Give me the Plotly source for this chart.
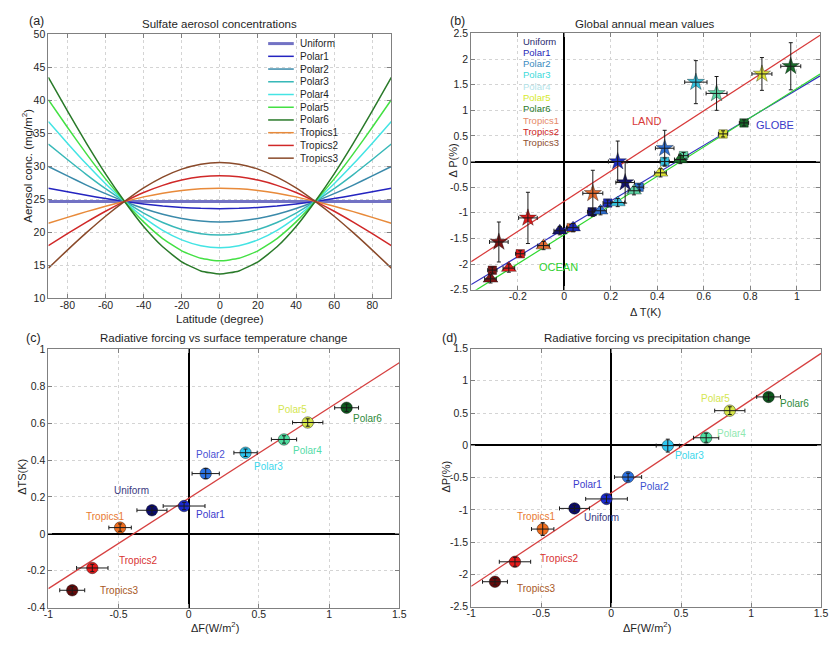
import plotly.graph_objects as go

# ---------------------------------------------------------------- data
experiments = ["Uniform", "Polar1", "Polar2", "Polar3", "Polar4", "Polar5",
               "Polar6", "Tropics1", "Tropics2", "Tropics3"]

# (a) zonal sulfate aerosol concentration profiles (mg/m2)
latitude = [-90, -80, -70, -60, -50, -40, -30, -20, -10, 0,
            10, 20, 30, 40, 50, 60, 70, 80, 90]
conc_uniform = [24.7, 24.7, 24.7, 24.7, 24.7, 24.7, 24.7, 24.7, 24.7, 24.7,
                24.7, 24.7, 24.7, 24.7, 24.7, 24.7, 24.7, 24.7, 24.7]
conc_polar1 = [26.7, 26.16, 25.64, 25.14, 24.7, 24.32, 24.01, 23.79, 23.65, 23.6,
               23.65, 23.79, 24.01, 24.32, 24.7, 25.14, 25.64, 26.16, 26.7]
conc_polar2 = [30.0, 28.57, 27.18, 25.88, 24.7, 23.63, 22.76, 22.12, 21.73, 21.6,
               21.73, 22.12, 22.76, 23.63, 24.7, 25.88, 27.18, 28.57, 30.0]
conc_polar3 = [33.4, 31.05, 28.77, 26.63, 24.7, 22.94, 21.51, 20.46, 19.82, 19.6,
               19.82, 20.46, 21.51, 22.94, 24.7, 26.63, 28.77, 31.05, 33.4]
conc_polar4 = [36.8, 33.53, 30.36, 27.39, 24.7, 22.29, 20.33, 18.88, 18.0, 17.7,
               18.0, 18.88, 20.33, 22.29, 24.7, 27.39, 30.36, 33.53, 36.8]
conc_polar5 = [40.1, 35.94, 31.91, 28.12, 24.7, 21.6, 19.08, 17.22, 16.08, 15.7,
               16.08, 17.22, 19.08, 21.6, 24.7, 28.12, 31.91, 35.94, 40.1]
conc_polar6 = [43.5, 38.42, 33.5, 28.88, 24.7, 20.91, 17.83, 15.56, 14.17, 13.7,
               14.17, 15.56, 17.83, 20.91, 24.7, 28.88, 33.5, 38.42, 43.5]
conc_tropics1 = [21.4, 22.29, 23.16, 23.97, 24.7, 25.39, 25.95, 26.36, 26.62, 26.7,
                 26.62, 26.36, 25.95, 25.39, 24.7, 23.97, 23.16, 22.29, 21.4]
conc_tropics2 = [18.0, 19.81, 21.56, 23.21, 24.7, 26.05, 27.14, 27.94, 28.43, 28.6,
                 28.43, 27.94, 27.14, 26.05, 24.7, 23.21, 21.56, 19.81, 18.0]
conc_tropics3 = [14.6, 17.33, 19.97, 22.46, 24.7, 26.74, 28.39, 29.6, 30.35, 30.6,
                 30.35, 29.6, 28.39, 26.74, 24.7, 22.46, 19.97, 17.33, 14.6]
concentrations = [conc_uniform, conc_polar1, conc_polar2, conc_polar3, conc_polar4,
                  conc_polar5, conc_polar6, conc_tropics1, conc_tropics2, conc_tropics3]

# (b) global annual mean dT (K) and dP (%) over land, globe and ocean
dT_land = [0.262, 0.23, 0.432, 0.566, 0.655, 0.85, 0.974, 0.123, -0.156, -0.281]
dP_land = [-0.41, 0.0, 0.26, 1.55, 1.33, 1.71, 1.86, -0.62, -1.10, -1.57]
dT_land_err = [0.04, 0.04, 0.04, 0.048, 0.045, 0.043, 0.043, 0.043, 0.04, 0.04]
dP_land_err = [0.40, 0.40, 0.35, 0.42, 0.33, 0.32, 0.46, 0.45, 0.50, 0.39]

dT_globe = [0.12, 0.187, 0.322, 0.432, 0.513, 0.683, 0.773, 0.03, -0.189, -0.309]
dP_globe = [-0.98, -0.81, -0.50, 0.0, 0.115, 0.54, 0.755, -1.29, -1.80, -2.12]
dT_globe_err = [0.02, 0.02, 0.02, 0.02, 0.02, 0.02, 0.02, 0.02, 0.02, 0.02]
dP_globe_err = [0.06, 0.06, 0.06, 0.07, 0.06, 0.06, 0.06, 0.06, 0.06, 0.06]

dT_ocean = [-0.019, 0.038, 0.156, 0.23, 0.30, 0.414, 0.499, -0.089, -0.238, -0.317]
dP_ocean = [-1.35, -1.29, -0.96, -0.80, -0.57, -0.22, 0.04, -1.64, -2.08, -2.29]
dT_ocean_err = [0.025, 0.025, 0.025, 0.03, 0.025, 0.025, 0.025, 0.025, 0.025, 0.025]
dP_ocean_err = [0.08, 0.08, 0.08, 0.08, 0.08, 0.08, 0.08, 0.08, 0.08, 0.08]

# regression lines in (b): slope, intercept
fit_land = (2.946, -0.776)
fit_globe = (2.715, -1.314)
fit_ocean = (2.853, -1.427)

# (c), (d) radiative forcing vs surface temperature / precipitation change
dF = [-0.262, -0.033, 0.121, 0.405, 0.679, 0.848, 1.125, -0.489, -0.687, -0.83]
dF_err = [0.107, 0.149, 0.097, 0.083, 0.09, 0.108, 0.085, 0.08, 0.112, 0.089]
dTS = [0.128, 0.151, 0.327, 0.44, 0.512, 0.604, 0.684, 0.034, -0.185, -0.306]
dTS_err = [0.02, 0.02, 0.027, 0.02, 0.02, 0.02, 0.02, 0.02, 0.02, 0.02]
dP = [-0.978, -0.831, -0.492, -0.005, 0.117, 0.537, 0.75, -1.298, -1.805, -2.114]
dP_err = [0.05, 0.06, 0.06, 0.1, 0.07, 0.06, 0.06, 0.1, 0.07, 0.05]

fit_ts = (0.49, 0.193)
fit_p = (1.444, -0.741)

# ---------------------------------------------------------------- styles
FONT = "Liberation Sans, Arial, Helvetica, sans-serif"
W, H = 832, 646


def px(x):
    return x / W


def py(y):
    return 1 - y / H


line_a = ["#7272c4", "#2424c0", "#3a8aaa", "#38b8b8", "#44e4e4", "#44e044",
          "#2a7a2a", "#e88a3a", "#d02828", "#8a4a2a"]
marker_b = ["#14146e", "#1c2cc0", "#2f6fd0", "#35c0dc", "#5ed6a6", "#dce236",
            "#196b2a", "#e26a2e", "#dc1c1c", "#7a1414"]
legend_b = ["#2a2a6e", "#2828b8", "#3a8abe", "#40dada", "#b4e4ea", "#d6ea2c",
            "#2a7a2a", "#e68a6a", "#cc2222", "#8e4e2e"]
marker_cd = ["#0c0c6c", "#1a2ad0", "#2a72e4", "#2fc6f0", "#4fdea0", "#d6e64a",
             "#0d5a1e", "#f06e1e", "#e61a1a", "#640a0a"]
label_c_col = ["#3a3a80", "#3a3acc", "#4a50d4", "#40d8ec", "#55dca8", "#d4e650",
               "#2e8a3a", "#e87a30", "#d83232", "#a8581e"]
label_d_col = ["#3a3a80", "#3a3acc", "#3a50d0", "#40d8ec", "#90e8b0", "#d4e650",
               "#2e8a3a", "#e87a30", "#d83232", "#a8581e"]

# text placement for point labels (data coordinates)
label_pos_c = [(-0.405, 0.233), (0.157, 0.107), (0.157, 0.428), (0.569, 0.364),
               (0.848, 0.453), (0.738, 0.677), (1.277, 0.627), (-0.597, 0.092),
               (-0.363, -0.142), (-0.497, -0.306)]
label_pos_d = [(-0.07, -1.125), (-0.171, -0.613), (0.312, -0.634), (0.563, -0.157),
               (0.857, 0.188), (0.749, 0.73), (1.307, 0.649), (-0.54, -1.11),
               (-0.369, -1.76), (-0.535, -2.226)]

# plot boxes in pixels: left, top, right, bottom
boxes = {
    "a": (44, 29, 392, 298),
    "b": (473, 28, 827, 289),
    "c": (44, 350, 400, 613),
    "d": (473, 349, 828, 612),
}


def xdom(k):
    l, t, r, b = boxes[k]
    return [px(l), px(r)]


def ydom(k):
    l, t, r, b = boxes[k]
    return [py(b), py(t)]


def axis(domain, rng, tickvals, anchor, zero=False, standoff=0):
    return dict(
        domain=domain, range=rng, tickvals=tickvals,
        ticktext=[f"{v:g}" for v in tickvals],
        ticks="inside", ticklen=4, tickcolor="#808080",
        showline=True, linecolor="#808080", linewidth=1, mirror="ticks",
        showgrid=True, gridcolor="#d4d4d4", griddash="dot", gridwidth=1,
        zeroline=zero, zerolinecolor="black", zerolinewidth=2,
        tickfont=dict(family=FONT, size=10.5, color="#262626"),
        ticklabelstandoff=standoff,
        anchor=anchor, fixedrange=True,
    )


fig = go.Figure()

# ---------------------------------------------------------------- (a)
for i, name in enumerate(experiments):
    fig.add_trace(go.Scatter(
        x=latitude, y=concentrations[i], mode="lines", name=name,
        line=dict(color=line_a[i], width=3 if i == 0 else 1.5,
                  shape="spline", smoothing=0.5),
        xaxis="x", yaxis="y", showlegend=False, hoverinfo="skip"))

# ---------------------------------------------------------------- (b)
x_line_b = [-0.4, 1.1]
for fit, col in [(fit_land, "#d83a3a"), (fit_globe, "#3232c0"), (fit_ocean, "#2ed82e")]:
    fig.add_trace(go.Scatter(
        x=x_line_b, y=[fit[0] * v + fit[1] for v in x_line_b], mode="lines",
        line=dict(color=col, width=1.2), xaxis="x2", yaxis="y2",
        showlegend=False, hoverinfo="skip"))

groups_b = [
    (dT_globe, dP_globe, dT_globe_err, dP_globe_err, "square", 8.5),
    (dT_ocean, dP_ocean, dT_ocean_err, dP_ocean_err, "triangle-up", 13),
    (dT_land, dP_land, dT_land_err, dP_land_err, "star", 13),
]
for xs, ys, xe, ye, sym, size in groups_b:
    for i in range(len(experiments)):
        fig.add_trace(go.Scatter(
            x=[xs[i]], y=[ys[i]], mode="markers",
            marker=dict(symbol=sym, size=size, color=marker_b[i],
                        line=dict(color="rgba(0,0,0,0.55)", width=0.6)),
            xaxis="x2", yaxis="y2", showlegend=False, hoverinfo="skip"))
        fig.add_trace(go.Scatter(
            x=[xs[i]], y=[ys[i]], mode="markers",
            marker=dict(size=1, color="rgba(0,0,0,0)"),
            error_x=dict(type="data", array=[xe[i]], color="#1a1a1a", thickness=1, width=2),
            error_y=dict(type="data", array=[ye[i]], color="#1a1a1a", thickness=1, width=2),
            xaxis="x2", yaxis="y2", showlegend=False, hoverinfo="skip"))

# ---------------------------------------------------------------- (c), (d)
x_line_cd = [-1.0, 1.5]
for (ys, ye, fit, xa, ya) in [(dTS, dTS_err, fit_ts, "x3", "y3"),
                              (dP, dP_err, fit_p, "x4", "y4")]:
    fig.add_trace(go.Scatter(
        x=x_line_cd, y=[fit[0] * v + fit[1] for v in x_line_cd], mode="lines",
        line=dict(color="#d64040", width=1.3), xaxis=xa, yaxis=ya,
        showlegend=False, hoverinfo="skip"))
    fig.add_trace(go.Scatter(
        x=dF, y=ys, mode="markers",
        marker=dict(symbol="circle", size=11.5, color=marker_cd,
                    line=dict(color="rgba(0,0,0,0.6)", width=0.7)),
        xaxis=xa, yaxis=ya, showlegend=False, hoverinfo="skip"))
    fig.add_trace(go.Scatter(
        x=dF, y=ys, mode="markers", marker=dict(size=1, color="rgba(0,0,0,0)"),
        error_x=dict(type="data", array=dF_err, color="#1a1a1a", thickness=1, width=2),
        error_y=dict(type="data", array=ye, color="#1a1a1a", thickness=1, width=2),
        xaxis=xa, yaxis=ya, showlegend=False, hoverinfo="skip"))

# ---------------------------------------------------------------- axes
fig.update_layout(
    xaxis=axis(xdom("a"), [-90, 90], [-80, -60, -40, -20, 0, 20, 40, 60, 80], "y",
               standoff=-3),
    yaxis=axis(ydom("a"), [10, 50], [10, 15, 20, 25, 30, 35, 40, 45, 50], "x"),
    xaxis2=axis(xdom("b"), [-0.4, 1.1], [-0.2, 0, 0.2, 0.4, 0.6, 0.8, 1.0], "y2",
                zero=True, standoff=-3),
    yaxis2=axis(ydom("b"), [-2.5, 2.5], [-2.5, -2, -1.5, -1, -0.5, 0, 0.5, 1, 1.5, 2, 2.5],
                "x2", zero=True),
    xaxis3=axis(xdom("c"), [-1, 1.5], [-1, -0.5, 0, 0.5, 1, 1.5], "y3", zero=True,
                standoff=-3),
    yaxis3=axis(ydom("c"), [-0.4, 1], [-0.4, -0.2, 0, 0.2, 0.4, 0.6, 0.8, 1], "x3",
                zero=True),
    xaxis4=axis(xdom("d"), [-1, 1.5], [-1, -0.5, 0, 0.5, 1, 1.5], "y4", zero=True,
                standoff=-3),
    yaxis4=axis(ydom("d"), [-2.5, 1.5], [-2.5, -2, -1.5, -1, -0.5, 0, 0.5, 1, 1.5], "x4",
                zero=True),
)

# ---------------------------------------------------------------- text
ann = []


def text(x, y, s, size=11, color="#1f1f1f", xanchor="center", angle=0,
         xref="paper", yref="paper"):
    ann.append(dict(x=x, y=y, xref=xref, yref=yref, text=s, showarrow=False,
                    xanchor=xanchor, yanchor="middle", textangle=angle,
                    font=dict(family=FONT, size=size, color=color)))


# panel tags, titles, axis titles (pixel placement)
text(px(32), py(15), "(a)", 12.5)
text(px(218), py(18), "Sulfate aerosol concentrations", 11.5)
text(px(22), py(163), "Aerosol conc. (mg/m<sup>2</sup>)", 11.5, angle=-90)
text(px(218), py(319), "Latitude (degree)", 11.5)

text(px(459), py(15), "(b)", 12.5)
text(px(649), py(18), "Global annual mean values", 11.5)
text(px(455), py(157), "\u0394 P(%)", 11, angle=-90)
text(px(650), py(312), "\u0394 T(K)", 11)

text(px(29), py(338), "(c)", 12.5)
text(px(222), py(338), "Radiative forcing vs surface temperature change", 11.5)
text(px(17), py(480), "\u0394TS(K)", 11, angle=-90)
text(px(213), py(633), "\u0394F(W/m<sup>2</sup>)", 11)

text(px(451), py(338), "(d)", 12.5)
text(px(651), py(338), "Radiative forcing vs precipitation change", 11.5)
text(px(448), py(480), "\u0394P(%)", 11, angle=-90)
text(px(651), py(633), "\u0394F(W/m<sup>2</sup>)", 11)

# legend of (a): line samples and names
shapes = []
for i, name in enumerate(experiments):
    yy = 38.3 + i * 12.97
    shapes.append(dict(type="line", xref="paper", yref="paper",
                       x0=px(267), x1=px(293), y0=py(yy), y1=py(yy),
                       line=dict(color=line_a[i], width=3 if i == 0 else 1.5)))
    text(px(297), py(yy), name, 10, xanchor="left")

# colored name list in (b)
for i, name in enumerate(experiments):
    text(px(524), py(35.7 + i * 11.5), name, 9.5, color=legend_b[i], xanchor="left")

text(0.355, 0.79, "LAND", 11, color="#d83a3a", xref="x2", yref="y2")
text(0.908, 0.71, "GLOBE", 11, color="#3a3ac8", xref="x2", yref="y2")
text(-0.024, -2.06, "OCEAN", 11, color="#30d030", xref="x2", yref="y2")

# point labels in (c) and (d)
for i, name in enumerate(experiments):
    text(label_pos_c[i][0], label_pos_c[i][1], name, 10, color=label_c_col[i],
         xref="x3", yref="y3")
    text(label_pos_d[i][0], label_pos_d[i][1], name, 10, color=label_d_col[i],
         xref="x4", yref="y4")

fig.update_layout(
    width=W, height=H, margin=dict(l=0, r=0, t=0, b=0),
    paper_bgcolor="white", plot_bgcolor="white",
    annotations=ann, shapes=shapes, showlegend=False,
    font=dict(family=FONT),
)

fig.write_html("out.html", config={"displayModeBar": False})
